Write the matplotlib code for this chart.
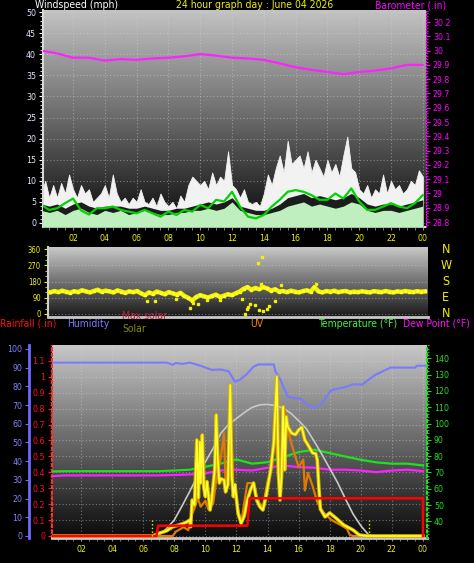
import matplotlib
matplotlib.use('Agg')
import numpy as np
import matplotlib.pyplot as plt
from matplotlib.colors import LinearSegmentedColormap
from matplotlib.ticker import MultipleLocator, FixedLocator, FixedFormatter

plt.rcParams['font.family'] = ['DejaVu Sans']
plt.rcParams['font.stretch'] = 'condensed'

# ---- data -------------------------------------------------------------
hours_q = np.arange(97) * 0.25   # 15 minute samples
hours_h = np.arange(49) * 0.5    # 30 minute samples
hours_1 = np.arange(25) * 1.0    # hourly samples

hour_ticks = [2, 4, 6, 8, 10, 12, 14, 16, 18, 20, 22, 24]
hour_labels = ['02', '04', '06', '08', '10', '12', '14', '16', '18', '20', '22', '00']

# wind (mph)
gust_hi = [7, 10, 6, 9, 6, 9.5, 7, 11.5, 8, 6, 9, 7, 8, 5, 6, 7,
           9, 6, 11.5, 7, 5, 6, 4.5, 6, 5, 8, 5, 4.5, 6, 4, 7, 5,
           4, 5, 3.5, 6.5, 5, 9, 11, 10, 9, 10, 8, 12, 9, 11, 10, 17,
           9, 8, 6, 8, 5, 4.5, 5, 4, 7, 11.5, 9, 13, 16, 12, 19.5, 14,
           15, 16, 13, 17, 12, 15, 13, 11, 15, 12, 14, 11, 16, 20.5, 13, 12,
           8, 7, 9, 6, 8, 7, 11.5, 7, 10, 8, 9, 7, 8, 10, 9, 12.5, 11]
gust_lo = [4.5, 4, 4.5, 3.5, 4.5, 5, 4, 3.5, 4, 4, 4, 3.5, 3.5, 4, 3.5, 3, 3,
           3.5, 3.5, 4, 4.5, 5, 4.5, 5, 6, 4, 3.5, 3, 3, 3.5, 4.5, 6, 6.5, 7,
           6, 6.5, 6, 5.5, 6, 7, 6, 4.5, 4, 4.5, 4.5, 4, 4.5, 5, 5.5]
speed_hi = [3, 2.5, 3, 2, 3, 3.5, 2.5, 2, 3, 2.5, 3, 2, 2.5, 3, 2.5, 2, 2,
            2.5, 2.5, 3, 3, 3.5, 3, 3.5, 5, 3, 2.5, 2, 2, 2.5, 3, 4, 4.5, 5,
            4, 4.5, 4, 3.5, 4, 5, 4.5, 3, 2.5, 3, 3, 2.5, 3, 3.5, 4]
wind_avg = [4.3, 3.1, 3.5, 4.7, 5.8, 3.0, 2.0, 3.5, 3.5, 3.9, 3.1, 2.7, 2.3,
            3.1, 2.3, 1.5, 2.7, 1.9, 3.1, 2.7, 4.3, 3.5, 5.5, 5.1, 7.4, 3.9,
            1.5, 1.1, 1.9, 3.9, 5.5, 7.4, 7.8, 7.4, 6.6, 5.5, 5.5, 7.0, 5.8,
            8.2, 5.1, 3.1, 3.1, 3.9, 4.7, 3.9, 3.5, 4.7, 6.6]

# barometer (in)
baro = [30.00, 29.98, 29.95, 29.95, 29.93, 29.94, 29.935, 29.945, 29.95,
        29.96, 29.975, 29.965, 29.95, 29.945, 29.935, 29.91, 29.883, 29.865,
        29.85, 29.835, 29.85, 29.86, 29.875, 29.9, 29.9]
baro_ticks = [28.8, 28.9, 29.0, 29.1, 29.2, 29.3, 29.4, 29.5, 29.6, 29.7,
              29.8, 29.9, 30.0, 30.1, 30.2]
baro_labels = ['28.8', '28.9', '29', '29.1', '29.2', '29.3', '29.4', '29.5',
               '29.6', '29.7', '29.8', '29.9', '30', '30.1', '30.2']

# wind direction (deg)
wind_dir = [125, 120, 128, 122, 130, 124, 118, 127, 122, 132, 126, 120,
            128, 135, 124, 130, 126, 120, 131, 125, 118, 126, 122, 128,
            115, 105, 120, 112, 125, 118, 110, 122, 115, 108, 118, 100,
            90, 75, 95, 105, 98, 92, 100, 108, 95, 102, 110, 105,
            115, 125, 140, 150, 135, 145, 138, 150, 142, 130, 138, 125,
            128, 122, 130, 125, 120, 127, 132, 124, 150, 126, 120, 128,
            124, 130, 122, 126, 128, 120, 125, 122, 126, 124, 120, 127,
            125, 122, 128, 124, 120, 126, 123, 128, 125, 122, 127, 124, 126]
dir_out_h = [6.4, 6.9, 8.2, 9.1, 9.3, 9.6, 10.2, 11.0, 12.4, 12.6, 12.7, 12.8,
             12.9, 13.2, 13.45, 13.5, 13.7, 13.75, 14.0, 14.1, 14.5, 13.6, 14.9, 17.1]
dir_out_deg = [70, 75, 85, 35, 60, 55, 78, 80, 85, 0, 28, 39,
               57, 50, 283, 20, 318, 17, 28, 45, 75, 165, 160, 165]
compass = ['N', 'W', 'S', 'E', 'N']
compass_deg = [360, 270, 180, 90, 0]

# rainfall (in)
rain_hours = [0, 6.85, 6.95, 12.7, 12.85, 24.0, 24.0]
rain_in = [0, 0, 0.065, 0.065, 0.237, 0.237, 0]

# humidity (%)
hum_hours = [0, 7.5, 7.9, 8.1, 8.5, 9.0, 9.7, 10.4, 11.0, 11.5, 11.9, 12.2,
             12.6, 13.1, 13.4, 14.4, 14.5, 14.8, 15.3, 15.7, 16.1, 16.45,
             16.9, 17.1, 17.4, 18.1, 19.1, 19.45, 20.1, 20.9, 21.9, 23.5, 23.6, 24.2]
hum_pct = [92.7, 92.7, 91.5, 92.5, 92, 92.7, 91, 88.8, 89, 88, 82.5, 83.4,
           86, 90.5, 91.7, 91.7, 88, 84, 74.5, 73.6, 73.6, 71,
           68.4, 69, 70, 78, 79.8, 81, 81, 86, 90, 90, 91, 91]

# temperature / dew point (F), hourly
temp_f = [70.6, 70.8, 70.8, 70.8, 70.8, 70.8, 70.8, 70.8, 71.2, 71.7, 73.5,
          75.5, 78.0, 75.4, 76.3, 79.4, 82.5, 84.0, 81.9, 79.8, 77.8, 76.2,
          75.4, 75.4, 74.3]
dew_f = [67.7, 68.2, 68.2, 68.2, 68.2, 68.2, 68.2, 68.2, 68.5, 68.8, 69.5,
         71.2, 71.7, 71.2, 72.9, 74.3, 73.3, 72.9, 71.7, 71.7, 71.2, 70.2,
         71.2, 71.7, 70.8]

# max solar (W/m2), half hourly
max_solar = [0, 0, 0, 0, 0, 0, 0, 0, 0, 0, 0, 0, 0, 0,
             8, 50, 109, 205, 305, 410, 505, 597, 700, 760, 800, 840, 875, 893,
             896, 888, 870, 835, 785, 730, 645, 555, 460, 365, 255, 150, 70, 8,
             0, 0, 0, 0, 0, 0, 0]

# solar (W/m2)
solar_hours = [0, 6.6, 7.0, 7.5, 7.9, 8.3, 8.6, 8.8, 9.0, 9.05, 9.15, 9.3,
               9.45, 9.55, 9.65, 9.7, 9.8, 9.9, 10.0, 10.1, 10.3, 10.4, 10.6,
               10.7, 10.8, 10.9, 11.0, 11.2, 11.3, 11.45, 11.6, 11.7, 11.8,
               11.9, 12.1, 12.3, 12.5, 12.7, 12.9, 13.1, 13.3, 13.5, 13.7,
               13.9, 14.2, 14.4, 14.6, 14.7, 14.8, 14.9, 15.0, 15.1, 15.2,
               15.3, 15.55, 15.8, 16.0, 16.2, 16.4, 16.6, 16.9, 17.1, 17.2,
               17.3, 17.4, 17.7, 18.0, 18.4, 18.9, 19.5, 19.9, 20.4, 24.0]
solar_wm2 = [0, 0, 18, 35, 63, 75, 86, 95, 109, 63, 245, 211,
             654, 260, 640, 361, 688, 330, 268, 370, 177, 245, 450,
             824, 518, 361, 390, 381, 300, 350, 1028, 402, 268,
             350, 157, 86, 136, 245, 313, 361, 245, 200, 177,
             268, 450, 633, 1085, 430, 245, 404, 880, 450, 812,
             744, 700, 690, 722, 740, 654, 620, 565, 560, 518,
             336, 184, 130, 157, 122, 75, 41, 7, 0, 0]
sunrise, sunset = 6.55, 20.55

# UV index
uv_hours = [0, 7.9, 8.1, 8.6, 8.9, 9.1, 9.3, 9.5, 9.7, 10.0, 10.2, 10.5, 10.7,
            11.0, 11.2, 11.3, 11.5, 11.6, 11.8, 12.0, 12.3, 12.7, 12.9, 13.1,
            13.3, 13.5, 13.7, 14.0, 14.3, 14.5, 14.6, 14.8, 15.1, 15.3, 15.7,
            16.0, 16.3, 16.4, 16.6, 16.9, 17.2, 17.6, 18.1, 18.7, 19.1, 19.3,
            19.5, 24.0]
uv_index = [0, 0, 0.3, 0.6, 0.4, 1.4, 1.9, 2.6, 2.0, 2.4, 1.8, 2.2, 3.8,
            5.4, 7.0, 3.4, 4.2, 9.5, 3.4, 2.3, 0.9, 3.6, 3.6, 3.6,
            2.7, 2.2, 2.0, 3.7, 4.7, 7.9, 5.5, 3.8, 8.6, 7.2, 5.7,
            4.7, 5.2, 3.1, 4.3, 3.4, 2.3, 1.6, 1.1, 0.75, 0.5, 0.07,
            0, 0]

# ---- helpers ----------------------------------------------------------
W, H = 474, 563
YEL = '#f0f000'
HEAD = 7.5   # header font size
TICK = 6.3   # tick label font size


def rect(l, t, r, b):
    return [l / W, 1 - b / H, (r - l) / W, (b - t) / H]


def px(x, y):
    return x / W, 1 - y / H


def gradient(ax, top, mid, bottom):
    cmap = LinearSegmentedColormap.from_list('bg', [bottom, mid, top])
    ax.imshow(np.linspace(1, 0, 256).reshape(-1, 1), cmap=cmap, vmin=0, vmax=1,
              aspect='auto', extent=[0, 1, 0, 1], transform=ax.transAxes,
              zorder=0, interpolation='bilinear')


def grid(ax, axis='both'):
    ax.grid(True, axis=axis, color='#d8d8d8', alpha=0.45, lw=0.8, ls=(0, (1, 2)))


def hide_spines(ax, keep=()):
    for s in ['top', 'bottom', 'left', 'right']:
        ax.spines[s].set_visible(s in keep)


def hour_axis(ax):
    ax.xaxis.set_major_locator(FixedLocator(hour_ticks))
    ax.xaxis.set_major_formatter(FixedFormatter(hour_labels))
    ax.xaxis.set_minor_locator(MultipleLocator(0.5))
    ax.tick_params(axis='x', which='major', length=2, color='#909090',
                   labelcolor=YEL, labelsize=TICK, pad=3)
    ax.tick_params(axis='x', which='minor', length=2, color='#909090')


fig = plt.figure(figsize=(W / 100, H / 100), dpi=100, facecolor='black')

# ---- panel 1: wind + barometer ---------------------------------------
ax1 = fig.add_axes(rect(43, 10, 426, 227))
gradient(ax1, '#c4c4c4', '#6a6a6a', '#080808')
ax1.fill_between(hours_q, -1, gust_hi, color='#f2f2f2', lw=0.6, zorder=2)
ax1.fill_between(hours_h, -1, gust_lo, color='#1c1c1c', lw=0, zorder=3)
ax1.fill_between(hours_h, -1, speed_hi, color='#bfeebf', lw=0, zorder=4)
ax1.plot(hours_h, wind_avg, color='#00d400', lw=1.6, zorder=5)
ax1.set_xlim(0.11, 24.2)
ax1.set_ylim(-0.95, 50.5)
ax1.yaxis.set_major_locator(MultipleLocator(5))
ax1.yaxis.set_minor_locator(MultipleLocator(1))
ax1.tick_params(axis='y', which='major', length=3, color='white',
                labelcolor='#dfe8ff', labelsize=TICK, pad=2)
ax1.tick_params(axis='y', which='minor', length=2, color='white')
hour_axis(ax1)
grid(ax1)
hide_spines(ax1, ('left', 'bottom'))
for s in ('left', 'bottom'):
    ax1.spines[s].set_color('#d8d8d8')
    ax1.spines[s].set_linewidth(1.5)

axb = ax1.twinx()
axb.plot(hours_1, baro, color='#ff22ff', lw=1.6, zorder=6)
axb.set_ylim(28.765, 30.284)
axb.yaxis.set_major_locator(FixedLocator(baro_ticks))
axb.yaxis.set_major_formatter(FixedFormatter(baro_labels))
axb.yaxis.set_minor_locator(MultipleLocator(0.02))
axb.tick_params(axis='y', which='major', length=3, color='#ff00ff',
                labelcolor='#ff00ff', labelsize=TICK, pad=2)
axb.tick_params(axis='y', which='minor', length=1.5, color='#ff00ff')
hide_spines(axb, ('right',))
axb.spines['right'].set_color('#ff00ff')
axb.spines['right'].set_linestyle(':')

fig.text(*px(35, 5), 'Windspeed (mph)', color='white', fontsize=HEAD, va='center')
fig.text(*px(255, 5), '24 hour graph day : June 04 2026', color=YEL,
         fontsize=HEAD, va='center', ha='center')
fig.text(*px(446, 5), 'Barometer (.in)', color='#ff00ff', fontsize=HEAD,
         va='center', ha='right')

# ---- panel 2: wind direction -----------------------------------------
ax2 = fig.add_axes(rect(48, 247, 428, 317))
gradient(ax2, '#c8c8c8', '#707070', '#181818')
ax2.plot(hours_q, wind_dir, color=YEL, lw=3.2, zorder=3)
ax2.plot(hours_q, wind_dir, 's', color='#ffff20', ms=1.6, zorder=4)
ax2.plot(dir_out_h, dir_out_deg, 's', color=YEL, ms=1.8, zorder=4)
ax2.set_xlim(0.1, 24.2)
ax2.set_ylim(-16.7, 372.8)
ax2.yaxis.set_major_locator(FixedLocator([0, 90, 180, 270, 360]))
ax2.yaxis.set_minor_locator(MultipleLocator(30))
ax2.tick_params(axis='y', which='major', length=3, color=YEL,
                labelcolor=YEL, labelsize=5.5, pad=2)
ax2.tick_params(axis='y', which='minor', length=2, color=YEL)
ax2.set_xticks([])
grid(ax2, 'y')
hide_spines(ax2, ('left', 'bottom'))
ax2.spines['left'].set_color('#d0d0d0')
ax2.spines['left'].set_linewidth(1.5)
ax2.spines['bottom'].set_color('#c8c8c8')
ax2.spines['bottom'].set_linewidth(2)
for lab, d in zip(compass, compass_deg):
    ax2.text(1.047, d, lab, color=YEL, fontsize=9, ha='center', va='center',
             transform=ax2.get_yaxis_transform(), clip_on=False)

# ---- panel 3: rain / humidity / solar / temperature -----------------
ax3 = fig.add_axes(rect(52, 345, 427, 538))
gradient(ax3, '#c8c8c8', '#686868', '#0a0a0a')
ax3.set_xlim(0.13, 24.26)
ax3.set_ylim(-0.0126, 1.2)
ax3.yaxis.set_major_locator(FixedLocator([i / 10 for i in range(12)]))
ax3.yaxis.set_major_formatter(FixedFormatter(
    ['0', '0.1', '0.2', '0.3', '0.4', '0.5', '0.6', '0.7', '0.8', '0.9', '1', '1.1']))
ax3.yaxis.set_minor_locator(MultipleLocator(0.02))
ax3.tick_params(axis='y', which='major', length=3, color='#ff2020',
                labelcolor='#ff1010', labelsize=TICK, pad=2)
ax3.tick_params(axis='y', which='minor', length=1.5, color='#ff2020')
hour_axis(ax3)
grid(ax3)
hide_spines(ax3, ('left', 'bottom'))
ax3.spines['left'].set_color('#ff3030')
ax3.spines['left'].set_linestyle(':')
ax3.spines['left'].set_linewidth(1.5)
ax3.spines['bottom'].set_color('#c8c8c8')
ax3.spines['bottom'].set_linewidth(2)

axh = ax3.twinx()
axh.plot(hum_hours, hum_pct, color='#7a7aff', lw=1.5)
axh.set_ylim(-1.07, 102.1)
axh.yaxis.tick_left()
axh.yaxis.set_major_locator(MultipleLocator(10))
axh.tick_params(axis='y', length=3, color='#7070ff', labelcolor='#8080ff',
                labelsize=TICK, pad=2)
hide_spines(axh, ('left',))
axh.spines['left'].set_position(('outward', 16.5))
axh.spines['left'].set_color('#6a6aff')
axh.spines['left'].set_linewidth(2)

axt = ax3.twinx()
axt.plot(hours_1, temp_f, color='#20e020', lw=1.6)
axt.plot(hours_1, dew_f, color='#ff20ff', lw=1.6)
axt.set_ylim(29.8, 148.2)
axt.set_yticks(list(range(40, 150, 10)))
axt.yaxis.set_minor_locator(MultipleLocator(2))
axt.tick_params(axis='y', which='major', length=3, color='#20e020',
                labelcolor='#20e020', labelsize=TICK, pad=2)
axt.tick_params(axis='y', which='minor', length=1.5, color='#20e020')
hide_spines(axt, ('right',))
axt.spines['right'].set_color('#20e020')
axt.spines['right'].set_linestyle(':')
axt.spines['right'].set_linewidth(1.5)

axm = ax3.twinx()
axm.plot(hours_h, max_solar, color='#c8c8c8', lw=1.2)
axm.set_ylim(-13.6, 1300)
axm.axis('off')

axu = ax3.twinx()
axu.plot(uv_hours, uv_index, color='#e07a00', lw=1.6)
axu.set_ylim(-0.136, 13.0)
axu.axis('off')

axs = ax3.twinx()
axs.plot(solar_hours, solar_wm2, color='#d8b400', lw=2.6)
axs.plot(solar_hours, solar_wm2, color='#ffff30', lw=1.2)
axs.set_ylim(-13.6, 1300)
axs.axis('off')

axr = ax3.twinx()
axr.plot(rain_hours, rain_in, color='#ff0000', lw=1.8)
axr.vlines([sunrise, sunset], 0, 0.1, colors=YEL, lw=1, linestyles=':')
axr.set_ylim(-0.0126, 1.2)
axr.axis('off')

fig.text(*px(0, 324), 'Rainfall (.in)', color='#ff1010', fontsize=HEAD, va='center')
fig.text(*px(67, 324), 'Humidity', color='#7878ff', fontsize=HEAD, va='center')
fig.text(*px(122, 316), 'Max solar', color='#c02040', fontsize=HEAD, va='center')
fig.text(*px(122, 329), 'Solar', color='#8c8c00', fontsize=HEAD, va='center')
fig.text(*px(250, 324), 'UV', color='#ff8000', fontsize=HEAD, va='center')
fig.text(*px(318, 324), 'Temperature (\u00b0F)', color='#30ff30', fontsize=HEAD, va='center')
fig.text(*px(470, 324), 'Dew Point (\u00b0F)', color='#ff10ff', fontsize=HEAD,
         va='center', ha='right')

fig.savefig('out.png', dpi=100, facecolor='black')
